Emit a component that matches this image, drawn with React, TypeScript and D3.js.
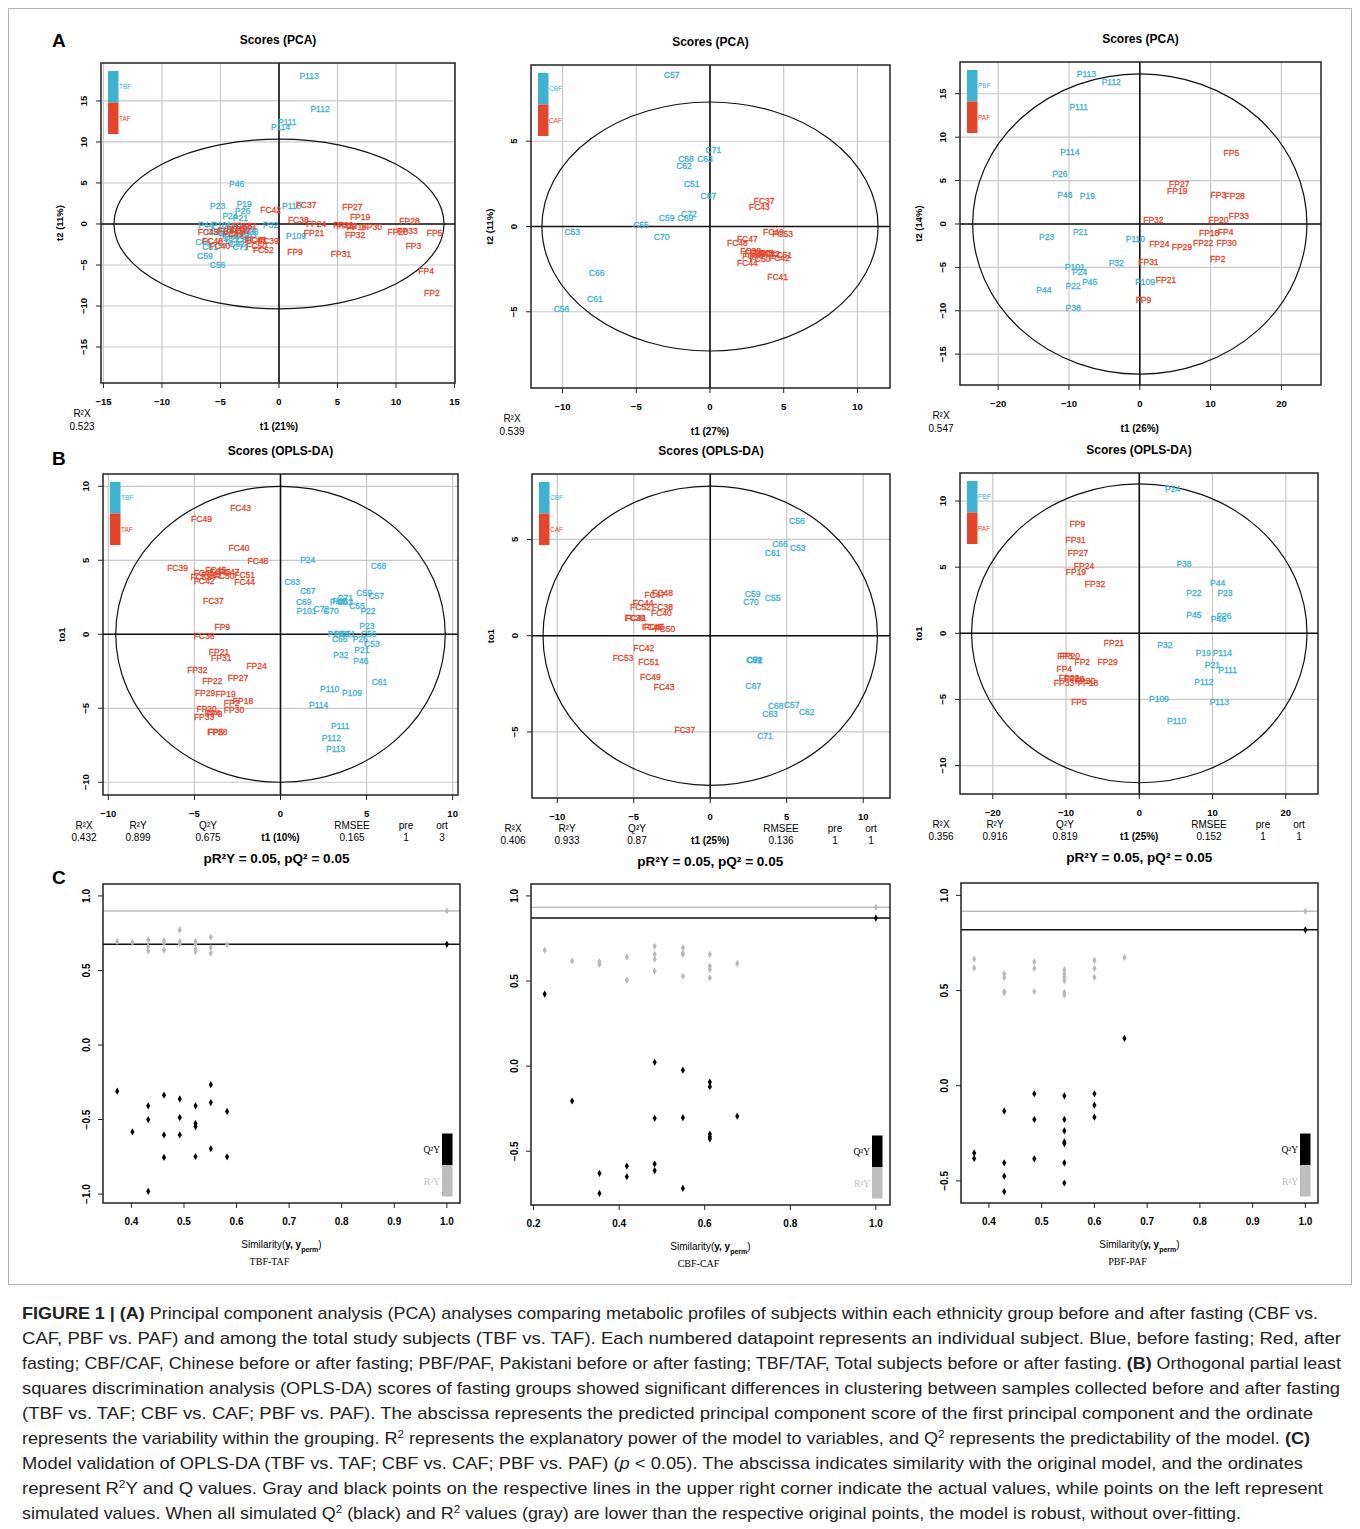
import * as d3 from "d3";

type Pt = [string, number, number];
type XY = [number, number];

const blue = "#3fb2d2";
const red = "#e4462b";
const grid = "#c8c8c8";
const sans = "'Liberation Sans', Arial, Helvetica, sans-serif";
const serif = "'Liberation Serif', 'Times New Roman', serif";

// ---------- A: PCA scores ----------
const pcaTbf: Pt[] = [
  ["P113", 2.57, 18.0], ["P112", 3.51, 14.04], ["P111", 0.71, 12.4], ["P114", 0.14, 11.8],
  ["P46", -3.62, 4.88], ["P23", -5.25, 2.16], ["P19", -2.97, 2.44], ["P26", -3.11, 1.55],
  ["P24", -4.19, 0.98], ["P21", -3.3, 0.75], ["P44", -6.24, -0.08], ["P101", -4.9, -0.08],
  ["P110", 1.08, 2.24], ["P32", -0.71, -0.08], ["P109", 1.45, -1.42], ["P22", -4.0, -1.8],
  ["P45", -3.4, -0.6], ["P38", -2.4, -1.0], ["C59", -6.33, -3.87], ["C56", -5.25, -4.97],
  ["C66", -6.5, -2.24], ["C70", -4.62, -2.36], ["C61", -5.9, -2.85], ["C53", -5.5, -1.0],
  ["C55", -3.2, -1.5], ["C57", -5.2, -0.9], ["C51", -2.7, -0.6], ["C62", -3.6, -2.5],
  ["C63", -2.6, -1.3], ["C67", -3.8, -0.3], ["C68", -3.0, -1.9], ["C69", -4.2, -1.5],
  ["C71", -3.3, -2.8], ["C72", -4.6, -1.1],
];
const pcaTaf: Pt[] = [
  ["FC37", 2.31, 2.36], ["FC42", -0.71, 1.71], ["FC38", 1.65, 0.53], ["FC43", -6.05, -1.02],
  ["FC48", -5.67, -2.04], ["FC40", -5.05, -2.65], ["FC44", -4.33, -0.81], ["FC51", -2.77, -0.2],
  ["FC53", -3.2, -0.3], ["FC45", -3.6, -0.6], ["FC47", -3.3, -0.85], ["FC49", -3.9, -1.2],
  ["FC46", -2.05, -1.95], ["FC41", -1.9, -2.0], ["FC39", -0.91, -2.04], ["FC50", -1.91, -2.65],
  ["FC52", -1.34, -3.17], ["FP24", 3.17, 0], ["FP21", 2.99, -1.1], ["FP9", 1.37, -3.46],
  ["FP31", 5.3, -3.66], ["FP27", 6.27, 2.04], ["FP19", 6.93, 0.81], ["FP29", 5.5, -0.12],
  ["FP22", 5.79, -0.2], ["FP18", 6.64, -0.41], ["FP30", 7.93, -0.41], ["FP32", 6.5, -1.3],
  ["FP28", 11.15, 0.41], ["FP33", 10.98, -0.81], ["FP20", 10.15, -1.02], ["FP5", 13.29, -1.14],
  ["FP3", 11.49, -2.65], ["FP4", 12.57, -5.7], ["FP2", 13.06, -8.47],
];
const pcaCbf: Pt[] = [
  ["C57", -2.6, 8.86], ["C71", 0.23, 4.51], ["C68", -1.63, 3.96], ["C63", -0.34, 3.96],
  ["C62", -1.76, 3.57], ["C51", -1.24, 2.49], ["C67", -0.11, 1.8], ["C72", -1.43, 0.73],
  ["C59", -2.94, 0.47], ["C69", -1.67, 0.47], ["C55", -4.68, 0.08], ["C53", -9.34, -0.33],
  ["C70", -3.28, -0.59], ["C66", -7.69, -2.71], ["C61", -7.81, -4.24], ["C56", -10.07, -4.86],
];
const pcaCaf: Pt[] = [
  ["FC37", 3.67, 1.51], ["FC43", 3.35, 1.12], ["FC49", 4.3, -0.33], ["FC53", 4.93, -0.45],
  ["FC47", 2.53, -0.75], ["FC48", 1.86, -0.94], ["FC38", 2.76, -1.41], ["FC39", 3.05, -1.57],
  ["FC40", 3.39, -1.53], ["FC45", 3.6, -1.57], ["FC52", 4.05, -1.63], ["FC46", 2.9, -1.76],
  ["FC51", 4.86, -1.67], ["FC42", 4.71, -1.82], ["FC50", 3.39, -1.92], ["FC44", 2.53, -2.12],
  ["FC41", 4.59, -2.94],
];
const pcaPbf: Pt[] = [
  ["P113", -7.54, 17.27], ["P112", -4.03, 16.38], ["P111", -8.62, 13.42], ["P114", -9.88, 8.27],
  ["P26", -11.29, 5.77], ["P46", -10.59, 3.38], ["P19", -7.4, 3.23], ["P23", -13.16, -1.46],
  ["P21", -8.38, -0.96], ["P110", -0.61, -1.73], ["P32", -3.33, -4.54], ["P101", -9.18, -4.92],
  ["P24", -8.48, -5.54], ["P45", -7.07, -6.69], ["P22", -9.41, -7.15], ["P44", -13.54, -7.62],
  ["P109", 0.75, -6.65], ["P38", -9.41, -9.65],
];
const pcaPaf: Pt[] = [
  ["FP5", 12.93, 8.23], ["FP27", 5.57, 4.62], ["FP19", 5.29, 3.85], ["FP3", 11.1, 3.31],
  ["FP28", 13.4, 3.27], ["FP33", 14.0, 0.96], ["FP20", 11.1, 0.42], ["FP32", 1.92, 0.42],
  ["FP18", 9.79, -1.08], ["FP4", 12.13, -0.96], ["FP22", 8.95, -2.15], ["FP30", 12.27, -2.15],
  ["FP24", 2.76, -2.31], ["FP29", 5.95, -2.69], ["FP2", 11.0, -4.08], ["FP31", 1.22, -4.42],
  ["FP21", 3.7, -6.46], ["FP9", 0.52, -8.77],
];
const pcaT1Var = [21, 27, 26];
const pcaT2Var = [11, 11, 14];
const pcaR2X = [0.523, 0.539, 0.547];
const pcaEllipse = [[14.1, 10.35], [11.4, 7.3], [23.6, 17.3]];

// ---------- B: OPLS-DA scores ----------
const oplsTbf: Pt[] = [
  ["P24", 1.58, 5.02], ["C68", 5.69, 4.62], ["C63", 0.68, 3.54], ["C67", 1.58, 2.95],
  ["C69", 1.35, 2.18], ["P101", 1.51, 1.6], ["C72", 2.37, 1.69], ["C70", 2.93, 1.55],
  ["P45", 3.44, 2.25], ["P44", 3.3, 2.2], ["C71", 3.76, 2.45], ["C62", 3.76, 2.15],
  ["C55", 4.44, 1.94], ["C59", 4.86, 2.77], ["C57", 5.56, 2.61], ["P22", 5.08, 1.55],
  ["P23", 5.02, 0.59], ["C56", 5.12, 0], ["P19", 3.19, 0], ["P38", 3.55, 0],
  ["C51", 3.9, 0.05], ["C66", 3.44, -0.32], ["P26", 4.63, -0.34], ["C53", 5.31, -0.65],
  ["P32", 3.51, -1.4], ["P21", 4.73, -1.06], ["P46", 4.67, -1.78], ["C61", 5.75, -3.24],
  ["P110", 2.86, -3.72], ["P109", 4.15, -3.99], ["P114", 2.22, -4.8], ["P111", 3.47, -6.19],
  ["P112", 2.95, -7.03], ["P113", 3.2, -7.77],
];
const oplsTaf: Pt[] = [
  ["FC43", -2.32, 8.56], ["FC49", -4.59, 7.77], ["FC40", -2.41, 5.81], ["FC48", -1.31, 4.98],
  ["FC39", -5.98, 4.5], ["FC45", -3.76, 4.35], ["FC47", -2.99, 4.23], ["FC46", -3.5, 4.2],
  ["FC41", -4.44, 4.12], ["FC52", -4.0, 4.0], ["FC50", -3.28, 3.94], ["FC51", -2.08, 4.01],
  ["FC53", -4.63, 3.9], ["FC42", -4.44, 3.63], ["FC44", -2.08, 3.54], ["FC37", -3.9, 2.27],
  ["FC38", -4.44, -0.09], ["FP9", -3.38, 0.52], ["FP21", -3.57, -1.17], ["FP31", -3.44, -1.58],
  ["FP24", -1.39, -2.12], ["FP32", -4.83, -2.41], ["FP27", -2.47, -2.97], ["FP22", -3.96, -3.13],
  ["FP29", -4.38, -3.94], ["FP19", -3.19, -4.03], ["FP18", -2.18, -4.48], ["FP2", -2.84, -4.62],
  ["FP30", -2.7, -5.11], ["FP20", -4.29, -5.05], ["FP4", -3.95, -5.3], ["FP3", -3.82, -5.38],
  ["FP33", -4.44, -5.61], ["FP5", -3.76, -6.58], ["FP28", -3.67, -6.58],
];
const oplsCbf: Pt[] = [
  ["C56", 5.66, 5.96], ["C66", 4.56, 4.75], ["C61", 4.08, 4.32], ["C53", 5.72, 4.58],
  ["C59", 2.77, 2.17], ["C70", 2.66, 1.77], ["C55", 4.08, 1.98], ["C69", 2.86, -1.27],
  ["C72", 2.9, -1.27], ["C51", 2.88, -1.28], ["C67", 2.82, -2.62], ["C68", 4.28, -3.66],
  ["C57", 5.33, -3.6], ["C62", 6.31, -3.95], ["C63", 3.91, -4.09], ["C71", 3.58, -5.22],
];
const oplsCaf: Pt[] = [
  ["FC48", -3.12, 2.2], ["FC47", -3.62, 2.11], ["FC44", -4.39, 1.72], ["FC52", -4.56, 1.47],
  ["FC38", -3.12, 1.51], ["FC40", -3.19, 1.16], ["FC39", -4.93, 0.9], ["FC41", -4.85, 0.9],
  ["FC46", -3.78, 0.43], ["FC45", -3.65, 0.43], ["FC50", -2.97, 0.33], ["FC42", -4.34, -0.66],
  ["FC53", -5.7, -1.14], ["FC51", -4.02, -1.39], ["FC49", -3.91, -2.13], ["FC43", -3.01, -2.65],
  ["FC37", -1.66, -4.9],
];
const oplsPbf: Pt[] = [
  ["P24", 4.55, 10.89], ["P38", 6.1, 5.24], ["P44", 10.69, 3.78], ["P22", 7.46, 3.03],
  ["P23", 11.7, 3.03], ["P45", 7.46, 1.41], ["P26", 11.56, 1.34], ["P46", 10.79, 1.08],
  ["P32", 3.5, -0.88], ["P19", 8.74, -1.46], ["P114", 11.33, -1.46], ["P21", 9.97, -2.4],
  ["P111", 12.06, -2.77], ["P112", 8.83, -3.68], ["P109", 2.68, -4.97], ["P113", 10.92, -5.17],
  ["P110", 5.1, -6.61],
];
const oplsPaf: Pt[] = [
  ["FP9", -8.46, 8.24], ["FP31", -8.69, 7.06], ["FP27", -8.37, 6.1], ["FP24", -7.55, 5.09],
  ["FP19", -8.65, 4.66], ["FP32", -6.05, 3.73], ["FP21", -3.46, -0.76], ["FP3", -10.15, -1.69],
  ["FP20", -9.5, -1.69], ["FP2", -7.78, -2.19], ["FP29", -4.32, -2.19], ["FP4", -10.24, -2.7],
  ["FP22", -9.6, -3.4], ["FP28", -8.9, -3.45], ["FP30", -7.4, -3.6], ["FP33", -10.28, -3.78],
  ["FP18", -7.0, -3.78], ["FP5", -8.24, -5.19],
];
const oplsT1Var = [10, 25, 25];
const oplsR2X = [0.432, 0.406, 0.356];
const oplsR2Y = [0.899, 0.933, 0.916];
const oplsQ2Y = [0.675, 0.87, 0.819];
const oplsRmsee = [0.165, 0.136, 0.152];
const oplsPre = [1, 1, 1];
const oplsOrt = [3, 1, 1];
const oplsEllipse = [[9.57, 10.0], [10.93, 7.77], [22.9, 11.3]];

// ---------- C: permutation tests ----------
const permTbfR2: XY[] = [
  [0.373, 0.694], [0.402, 0.688], [0.432, 0.705], [0.432, 0.661], [0.432, 0.632], [0.462, 0.699],
  [0.462, 0.683], [0.462, 0.638], [0.492, 0.772], [0.492, 0.694], [0.492, 0.679], [0.522, 0.694],
  [0.522, 0.679], [0.522, 0.643], [0.522, 0.627], [0.551, 0.723], [0.551, 0.654], [0.551, 0.616],
  [0.582, 0.672],
];
const permTbfQ2: XY[] = [
  [0.373, -0.31], [0.402, -0.583], [0.432, -0.408], [0.432, -0.5], [0.432, -0.982], [0.462, -0.337],
  [0.462, -0.603], [0.462, -0.754], [0.492, -0.362], [0.492, -0.487], [0.492, -0.603], [0.522, -0.408],
  [0.522, -0.527], [0.522, -0.547], [0.522, -0.748], [0.551, -0.266], [0.551, -0.386], [0.551, -0.696],
  [0.582, -0.446], [0.582, -0.75],
];
const permCbfR2: XY[] = [
  [0.226, 0.681], [0.29, 0.618], [0.354, 0.613], [0.354, 0.597], [0.418, 0.642], [0.418, 0.505],
  [0.483, 0.704], [0.483, 0.657], [0.483, 0.628], [0.483, 0.558], [0.549, 0.697], [0.549, 0.665],
  [0.549, 0.656], [0.549, 0.528], [0.612, 0.657], [0.612, 0.587], [0.612, 0.568], [0.612, 0.519],
  [0.676, 0.603],
];
const permCbfQ2: XY[] = [
  [0.226, 0.423], [0.29, -0.205], [0.354, -0.63], [0.354, -0.748], [0.418, -0.587], [0.418, -0.65],
  [0.483, 0.022], [0.483, -0.307], [0.483, -0.575], [0.483, -0.614], [0.549, -0.024], [0.549, -0.303],
  [0.549, -0.718], [0.612, -0.094], [0.612, -0.121], [0.612, -0.399], [0.612, -0.415], [0.612, -0.427],
  [0.676, -0.294],
];
const permPbfR2: XY[] = [
  [0.372, 0.665], [0.372, 0.619], [0.429, 0.588], [0.429, 0.568], [0.429, 0.495], [0.429, 0.489],
  [0.486, 0.651], [0.486, 0.616], [0.486, 0.495], [0.543, 0.609], [0.543, 0.588], [0.543, 0.57],
  [0.543, 0.551], [0.543, 0.491], [0.543, 0.477], [0.6, 0.658], [0.6, 0.616], [0.6, 0.57],
  [0.657, 0.674],
];
const permPbfQ2: XY[] = [
  [0.372, -0.353], [0.372, -0.382], [0.429, -0.133], [0.429, -0.405], [0.429, -0.475], [0.429, -0.556],
  [0.486, -0.042], [0.486, -0.177], [0.486, -0.384], [0.543, -0.053], [0.543, -0.177], [0.543, -0.237],
  [0.543, -0.295], [0.543, -0.304], [0.543, -0.405], [0.543, -0.511], [0.6, -0.042], [0.6, -0.102],
  [0.6, -0.165], [0.657, 0.249],
];
const permNames = ["TBF-TAF", "CBF-CAF", "PBF-PAF"];
const groupNames = [["TBF", "TAF"], ["CBF", "CAF"], ["PBF", "PAF"]];

// caption: [text, style] segments, b = bold, i = italic, s = superscript
const caption: [string, string][][] = [
  [["FIGURE 1 | (A)", "b"], [" Principal component analysis (PCA) analyses comparing metabolic profiles of subjects within each ethnicity group before and after fasting (CBF vs.", ""]],
  [["CAF, PBF vs. PAF) and among the total study subjects (TBF vs. TAF). Each numbered datapoint represents an individual subject. Blue, before fasting; Red, after", ""]],
  [["fasting; CBF/CAF, Chinese before or after fasting; PBF/PAF, Pakistani before or after fasting; TBF/TAF, Total subjects before or after fasting. ", ""], ["(B)", "b"], [" Orthogonal partial least", ""]],
  [["squares discrimination analysis (OPLS-DA) scores of fasting groups showed significant differences in clustering between samples collected before and after fasting", ""]],
  [["(TBF vs. TAF; CBF vs. CAF; PBF vs. PAF). The abscissa represents the predicted principal component score of the first principal component and the ordinate", ""]],
  [["represents the variability within the grouping. R", ""], ["2", "s"], [" represents the explanatory power of the model to variables, and Q", ""], ["2", "s"], [" represents the predictability of the model. ", ""], ["(C)", "b"]],
  [["Model validation of OPLS-DA (TBF vs. TAF; CBF vs. CAF; PBF vs. PAF) (", ""], ["p", "i"], [" < 0.05). The abscissa indicates similarity with the original model, and the ordinates", ""]],
  [["represent R", ""], ["2", "s"], ["Y and Q values. Gray and black points on the respective lines in the upper right corner indicate the actual values, while points on the left represent", ""]],
  [["simulated values. When all simulated Q", ""], ["2", "s"], [" (black) and R", ""], ["2", "s"], [" values (gray) are lower than the respective original points, the model is robust, without over-fitting.", ""]],
];
const captionEnds = [1318, 1341, 1341, 1340, 1313, 1310, 1303, 1323, 1241];

// ---------- layout ----------
const pcaBoxes = [[101, 455, 63, 383], [531, 890, 65, 388], [960, 1321, 62, 385]];
const pcaXDom = [[-15.21, 15.04], [-12.14, 12.21], [-25.39, 25.59]];
const pcaYDom = [[-19.39, 19.63], [-9.47, 9.47], [-18.55, 18.66]];
const pcaXTicks = [d3.range(-15, 16, 5), d3.range(-10, 11, 5), d3.range(-20, 21, 10)];
const pcaYTicks = [d3.range(-15, 16, 5), [-5, 0, 5], d3.range(-15, 16, 5)];

const oplsBoxes = [[103, 458, 474, 795], [532, 890, 474, 798], [960, 1318, 473, 794]];
const oplsXDom = [[-10.31, 10.31], [-11.65, 11.75], [-24.48, 24.4]];
const oplsYDom = [[-10.86, 10.83], [-8.43, 8.4], [-12.15, 12.12]];
const oplsXTicks = [d3.range(-10, 11, 5), d3.range(-10, 11, 5), d3.range(-20, 21, 10)];
const oplsYTicks = [d3.range(-10, 11, 5), [-5, 0, 5], d3.range(-10, 11, 5)];

const permBoxes = [[103, 460, 884, 1203], [531, 890, 884, 1205], [961, 1318, 883, 1203]];
const permXDom = [[0.346, 1.025], [0.194, 1.033], [0.347, 1.024]];
const permYDom = [[-1.06, 1.08], [-0.816, 1.07], [-0.616, 1.065]];
const permXTicks = [d3.range(0.4, 1.01, 0.1), d3.range(0.2, 1.01, 0.2), d3.range(0.4, 1.01, 0.1)];
const permYTicks = [[-1, -0.5, 0, 0.5, 1], [-0.5, 0, 0.5, 1], [-0.5, 0, 0.5, 1]];

type ScoreProps = {
  box: number[];
  xDom: number[];
  yDom: number[];
  xTicks: number[];
  yTicks: number[];
  ellipse: number[];
  before: Pt[];
  after: Pt[];
  names: string[];
  title: string;
  yLabel: string;
};

const ScorePlot = (p: ScoreProps) => {
  const [x0, x1, y0, y1] = p.box;
  const x = d3.scaleLinear().domain(p.xDom).range([x0, x1]);
  const y = d3.scaleLinear().domain(p.yDom).range([y1, y0]);
  const fmt = d3.format("d");
  return (
    <g>
      <text x={(x0 + x1) / 2} y={y0 - 19} textAnchor="middle" fontSize={12} fontWeight="bold">
        {p.title}
      </text>
      {p.xTicks.map((t) => (
        <line key={"gx" + t} x1={x(t)} x2={x(t)} y1={y0} y2={y1} stroke={grid} strokeWidth={1.2} />
      ))}
      {p.yTicks.map((t) => (
        <line key={"gy" + t} x1={x0} x2={x1} y1={y(t)} y2={y(t)} stroke={grid} strokeWidth={1.2} />
      ))}
      <line x1={x(0)} x2={x(0)} y1={y0} y2={y1} stroke="#111" strokeWidth={1.6} />
      <line x1={x0} x2={x1} y1={y(0)} y2={y(0)} stroke="#111" strokeWidth={1.6} />
      <ellipse
        cx={x(0)}
        cy={y(0)}
        rx={x(p.ellipse[0]) - x(0)}
        ry={y(0) - y(p.ellipse[1])}
        fill="none"
        stroke="#111"
        strokeWidth={1.2}
      />
      <rect x={x0} y={y0} width={x1 - x0} height={y1 - y0} fill="none" stroke="#222" strokeWidth={1.5} />
      {p.xTicks.map((t) => (
        <g key={"tx" + t}>
          <line x1={x(t)} x2={x(t)} y1={y1} y2={y1 + 5} stroke="#222" />
          <text x={x(t)} y={y1 + 22} textAnchor="middle" fontSize={9.5} fontWeight="bold">
            {fmt(t)}
          </text>
        </g>
      ))}
      {p.yTicks.map((t) => (
        <g key={"ty" + t}>
          <line x1={x0 - 5} x2={x0} y1={y(t)} y2={y(t)} stroke="#222" />
          <text
            transform={`translate(${x0 - 14},${y(t)}) rotate(-90)`}
            textAnchor="middle"
            fontSize={9.5}
            fontWeight="bold"
          >
            {fmt(t)}
          </text>
        </g>
      ))}
      <text
        transform={`translate(${x0 - 38},${(y0 + y1) / 2}) rotate(-90)`}
        textAnchor="middle"
        fontSize={9.5}
        fontWeight="bold"
      >
        {p.yLabel}
      </text>
      <rect x={x0 + 7} y={y0 + 8} width={10.5} height={31.5} fill={blue} />
      <rect x={x0 + 7} y={y0 + 39.5} width={10.5} height={31.5} fill={red} />
      <text x={x0 + 18} y={y0 + 26} fontSize={6.5} fill={blue}>
        {p.names[0]}
      </text>
      <text x={x0 + 18} y={y0 + 58} fontSize={6.5} fill={red}>
        {p.names[1]}
      </text>
      {p.before.map(([lab, a, b]) => (
        <text
          key={"b" + lab}
          x={x(a)}
          y={y(b)}
          dy="0.35em"
          textAnchor="middle"
          fontSize={8.5}
          fill={blue}
          stroke={blue}
          strokeWidth={0.3}
        >
          {lab}
        </text>
      ))}
      {p.after.map(([lab, a, b]) => (
        <text
          key={"a" + lab}
          x={x(a)}
          y={y(b)}
          dy="0.35em"
          textAnchor="middle"
          fontSize={8.5}
          fill={red}
          stroke={red}
          strokeWidth={0.3}
        >
          {lab}
        </text>
      ))}
    </g>
  );
};

type PermProps = {
  box: number[];
  xDom: number[];
  yDom: number[];
  xTicks: number[];
  yTicks: number[];
  r2: XY[];
  q2: XY[];
  r2y: number;
  q2y: number;
  name: string;
};

const PermPlot = (p: PermProps) => {
  const [x0, x1, y0, y1] = p.box;
  const x = d3.scaleLinear().domain(p.xDom).range([x0, x1]);
  const y = d3.scaleLinear().domain(p.yDom).range([y1, y0]);
  const fmt = d3.format(".1f");
  const diamond = d3.symbol(d3.symbolDiamond, 15)() as string;
  const cx = (x0 + x1) / 2;
  return (
    <g>
      <line x1={x0} x2={x1} y1={y(p.r2y)} y2={y(p.r2y)} stroke="#bdbdbd" strokeWidth={1.5} />
      <line x1={x0} x2={x1} y1={y(p.q2y)} y2={y(p.q2y)} stroke="#111" strokeWidth={1.5} />
      {p.r2.map(([a, b], i) => (
        <path key={"r" + i} d={diamond} transform={`translate(${x(a)},${y(b)})`} fill="#b9b9b9" />
      ))}
      <path d={diamond} transform={`translate(${x(1)},${y(p.r2y)})`} fill="#b9b9b9" />
      {p.q2.map(([a, b], i) => (
        <path key={"q" + i} d={diamond} transform={`translate(${x(a)},${y(b)})`} fill="#000" />
      ))}
      <path d={diamond} transform={`translate(${x(1)},${y(p.q2y)})`} fill="#000" />
      <rect x={x0} y={y0} width={x1 - x0} height={y1 - y0} fill="none" stroke="#222" strokeWidth={1.5} />
      {p.xTicks.map((t) => (
        <g key={"tx" + t}>
          <line x1={x(t)} x2={x(t)} y1={y1} y2={y1 + 5} stroke="#222" />
          <text x={x(t)} y={y1 + 22} textAnchor="middle" fontSize={10} fontWeight="bold">
            {fmt(t)}
          </text>
        </g>
      ))}
      {p.yTicks.map((t) => (
        <g key={"ty" + t}>
          <line x1={x0 - 5} x2={x0} y1={y(t)} y2={y(t)} stroke="#222" />
          <text
            transform={`translate(${x0 - 13},${y(t)}) rotate(-90)`}
            textAnchor="middle"
            fontSize={10}
            fontWeight="bold"
          >
            {fmt(t)}
          </text>
        </g>
      ))}
      <rect x={x1 - 18} y={y1 - 69.5} width={10.5} height={31.5} fill="#000" />
      <rect x={x1 - 18} y={y1 - 38} width={10.5} height={31.5} fill="#bdbdbd" />
      <text x={x1 - 20} y={y1 - 50} textAnchor="end" fontSize={9.5} fontFamily={serif}>
        Q²Y
      </text>
      <text x={x1 - 20} y={y1 - 18} textAnchor="end" fontSize={9.5} fontFamily={serif} fill="#bdbdbd">
        R²Y
      </text>
      <text x={cx} y={y1 + 45} textAnchor="middle" fontSize={10}>
        Similarity(
        <tspan fontWeight="bold">y, y</tspan>
        <tspan fontWeight="bold" fontSize={7} baselineShift="sub">
          perm
        </tspan>
        )
      </text>
      <text x={cx - 12} y={y1 + 62} textAnchor="middle" fontSize={10} fontFamily={serif}>
        {p.name}
      </text>
    </g>
  );
};

const App = () => {
  const befores = [pcaTbf, pcaCbf, pcaPbf];
  const afters = [pcaTaf, pcaCaf, pcaPaf];
  const oBefores = [oplsTbf, oplsCbf, oplsPbf];
  const oAfters = [oplsTaf, oplsCaf, oplsPaf];
  const perms = [
    [permTbfR2, permTbfQ2],
    [permCbfR2, permCbfQ2],
    [permPbfR2, permPbfQ2],
  ];
  const statOffsets = [-19, 35, 105, 249, 303, 339];
  return (
    <svg
      width={1360}
      height={1529}
      style={{ position: "absolute", left: 0, top: 0, background: "#fff" }}
      fontFamily={sans}
    >
      <rect x={8.5} y={8.5} width={1343} height={1276} fill="none" stroke="#b5b5b5" />
      <text x={52} y={47} fontSize={19} fontWeight="bold">A</text>
      <text x={52} y={465} fontSize={19} fontWeight="bold">B</text>
      <text x={52} y={884} fontSize={19} fontWeight="bold">C</text>

      {pcaBoxes.map((box, i) => {
        const x = d3.scaleLinear().domain(pcaXDom[i]).range([box[0], box[1]]);
        return (
          <g key={"pca" + i}>
            <ScorePlot
              box={box}
              xDom={pcaXDom[i]}
              yDom={pcaYDom[i]}
              xTicks={pcaXTicks[i]}
              yTicks={pcaYTicks[i]}
              ellipse={pcaEllipse[i]}
              before={befores[i]}
              after={afters[i]}
              names={groupNames[i]}
              title="Scores (PCA)"
              yLabel={`t2 (${pcaT2Var[i]}%)`}
            />
            <text x={box[0] - 19} y={box[3] + 34} textAnchor="middle" fontSize={10}>R²X</text>
            <text x={box[0] - 19} y={box[3] + 47} textAnchor="middle" fontSize={10}>{pcaR2X[i]}</text>
            <text x={x(0)} y={box[3] + 47} textAnchor="middle" fontSize={10} fontWeight="bold">
              {`t1 (${pcaT1Var[i]}%)`}
            </text>
          </g>
        );
      })}

      {oplsBoxes.map((box, i) => {
        const x = d3.scaleLinear().domain(oplsXDom[i]).range([box[0], box[1]]);
        const heads = ["R²X", "R²Y", "Q²Y", "RMSEE", "pre", "ort"];
        const vals = [oplsR2X[i], oplsR2Y[i], oplsQ2Y[i], oplsRmsee[i], oplsPre[i], oplsOrt[i]];
        return (
          <g key={"opls" + i}>
            <ScorePlot
              box={box}
              xDom={oplsXDom[i]}
              yDom={oplsYDom[i]}
              xTicks={oplsXTicks[i]}
              yTicks={oplsYTicks[i]}
              ellipse={oplsEllipse[i]}
              before={oBefores[i]}
              after={oAfters[i]}
              names={groupNames[i]}
              title="Scores (OPLS-DA)"
              yLabel="to1"
            />
            {heads.map((h, k) => (
              <g key={h}>
                <text x={box[0] + statOffsets[k]} y={box[3] + 34} textAnchor="middle" fontSize={10}>{h}</text>
                <text x={box[0] + statOffsets[k]} y={box[3] + 46} textAnchor="middle" fontSize={10}>{vals[k]}</text>
              </g>
            ))}
            <text x={x(0)} y={box[3] + 46} textAnchor="middle" fontSize={10} fontWeight="bold">
              {`t1 (${oplsT1Var[i]}%)`}
            </text>
            <text
              x={x(0) - (i === 0 ? 4 : 0)}
              y={box[3] + 68}
              textAnchor="middle"
              fontSize={12.5}
              fontWeight="bold"
              textLength={146}
              lengthAdjust="spacingAndGlyphs"
            >
              pR²Y = 0.05, pQ² = 0.05
            </text>
          </g>
        );
      })}

      {permBoxes.map((box, i) => (
        <PermPlot
          key={"perm" + i}
          box={box}
          xDom={permXDom[i]}
          yDom={permYDom[i]}
          xTicks={permXTicks[i]}
          yTicks={permYTicks[i]}
          r2={perms[i][0]}
          q2={perms[i][1]}
          r2y={oplsR2Y[i]}
          q2y={oplsQ2Y[i]}
          name={permNames[i]}
        />
      ))}

      {caption.map((line, i) => (
        <text
          key={"cap" + i}
          x={22}
          y={1319 + i * 25}
          fontSize={17}
          fill="#222"
          textLength={captionEnds[i] - 22}
          lengthAdjust="spacingAndGlyphs"
        >
          {line.map(([s, st], k) => (
            <tspan
              key={k}
              fontWeight={st === "b" ? "bold" : undefined}
              fontStyle={st === "i" ? "italic" : undefined}
              fontSize={st === "s" ? 11 : undefined}
              baselineShift={st === "s" ? "super" : undefined}
            >
              {s}
            </tspan>
          ))}
        </text>
      ))}
    </svg>
  );
};

export default App;
